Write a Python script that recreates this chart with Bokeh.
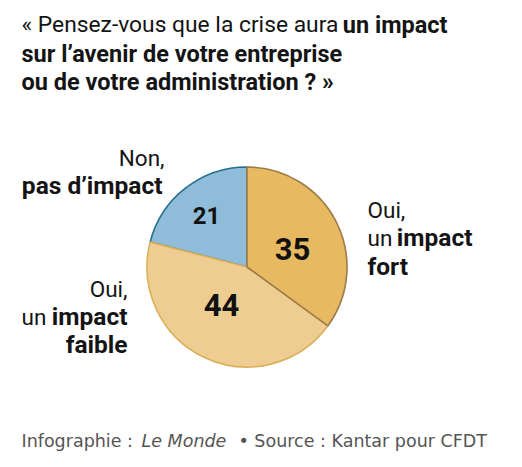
import math
from bokeh.plotting import figure
from bokeh.models import Range1d
from bokeh.embed import file_html
from bokeh.resources import INLINE
from bokeh.core.properties import value

# ---- data ----
categories = ["Oui, un impact fort", "Oui, un impact faible", "Non, pas d'impact"]
values = [35, 44, 21]
fill_colors = ["#e7b961", "#edcd91", "#8fbdd9"]
edge_colors = ["#9d7b4a", "#dcb05a", "#256e8b"]

title_regular = "« Pensez-vous que la crise aura"
title_bold = "un impact"
title_line2 = "sur l’avenir de votre entreprise"
title_line3 = "ou de votre administration ? »"
footer_a = "Infographie :"
footer_b = "Le Monde"
footer_c = "•  Source : Kantar pour CFDT"

W, H = 522, 467
OX, OY = 7, 7          # page offset of the plot area
FONT = value("Roboto")
FOOT_FONT = value("DejaVu Sans")

p = figure(width=506, height=451,
           x_range=Range1d(8 - OX, 514 - OX), y_range=Range1d(H - 459 + OY, H - 8 + OY),
           x_axis_type=None, y_axis_type=None,
           output_backend="svg", toolbar_location=None,
           min_border=0, min_border_left=0, min_border_right=0,
           min_border_top=0, min_border_bottom=0)
p.grid.visible = False
p.outline_line_color = None
p.background_fill_color = "white"
p.border_fill_color = "white"

# ---- pie ----
cx, cy, r = 247.5, H - 267.5, 100
total = sum(values)
angles = []
cum = 0
for v in values:
    a0 = math.pi / 2 - 2 * math.pi * cum / total
    cum += v
    a1 = math.pi / 2 - 2 * math.pi * cum / total
    angles.append((a1, a0))

for i in [2, 1, 0]:
    p.wedge(x=[cx], y=[cy], radius=r,
            start_angle=angles[i][0], end_angle=angles[i][1],
            direction="anticlock",
            fill_color=fill_colors[i], line_color=edge_colors[i], line_width=1.6)


def txt(x, y, s, size, style="normal", align="left", color="#141414", font=FONT):
    ty = size / 3.0
    p.text(x=[x], y=[H - (y - ty)], text=[s], text_font=font,
           text_font_size=f"{size}px", text_font_style=style,
           text_align=align, text_baseline="alphabetic", text_color=color)


# ---- title ----
txt(22, 33, title_regular, 22.8)
txt(448, 33, title_bold, 23.5, "bold", "right")
txt(22, 62, title_line2, 23.5, "bold")
txt(22, 90, title_line3, 23.5, "bold")

# ---- slice values ----
num_pos = [(293, 260), (222, 316), (207, 224)]
num_size = [31, 31, 24]
for i, v in enumerate(values):
    txt(num_pos[i][0], num_pos[i][1], str(v), num_size[i], "bold", "center", "#111111")

# ---- slice labels ----
LR, LB = 22.5, 24.5
# right: Oui, un impact fort
txt(368, 218, "Oui,", LR)
txt(368, 246, "un", LR)
txt(473, 246, "impact", LB, "bold", "right")
txt(368, 275, "fort", LB, "bold")
# left: Oui, un impact faible
txt(128, 297, "Oui,", LR, align="right")
txt(22, 325, "un", LR)
txt(128, 325, "impact", LB, "bold", "right")
txt(128, 353, "faible", LB, "bold", "right")
# top-left: Non, pas d'impact
txt(165, 166, "Non,", LR, align="right")
txt(163, 194, "pas d’impact", LB, "bold", "right")

# ---- footer ----
FC = "#555555"
txt(22, 447, footer_a, 17.5, color=FC, font=FOOT_FONT)
txt(142, 447, footer_b, 17.5, "italic", color=FC, font=FOOT_FONT)
txt(493, 447, footer_c, 17.5, align="right", color=FC, font=FOOT_FONT)

open("out.html", "w").write(file_html(p, INLINE))
